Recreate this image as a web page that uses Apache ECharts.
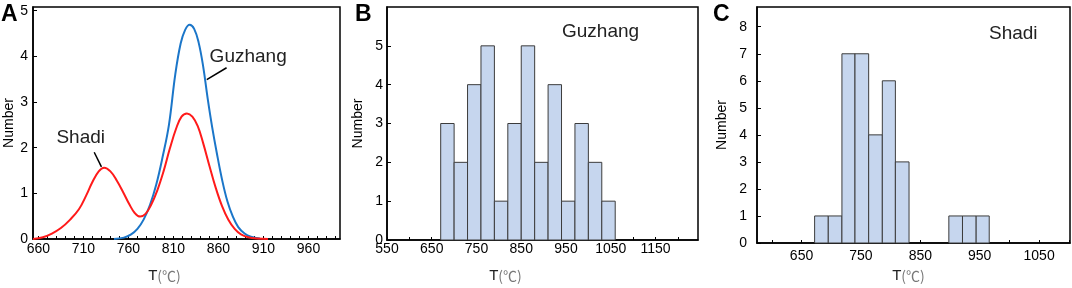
<!DOCTYPE html>
<html>
<head>
<meta charset="utf-8">
<script src="https://cdn.jsdelivr.net/npm/echarts@6/dist/echarts.min.js"></script>
<style>
html,body{margin:0;padding:0;background:#fff;}
#main{width:1072px;height:288px;}
</style>
</head>
<body>
<div id="main"></div>
<script>
// A: kernel density curves
var shadiT = [654,665,675,685,695,705,713,720,727,733,740,747,754,761,767,773,779,785,792,799,806,813,819,825,831,837,843,850,857,864,871,878,885,893,903,915];
var shadiN = [0,0.04,0.12,0.24,0.42,0.65,0.95,1.25,1.48,1.56,1.48,1.28,1.03,0.76,0.57,0.49,0.55,0.74,1.06,1.48,1.98,2.42,2.68,2.75,2.68,2.47,2.1,1.6,1.12,0.72,0.42,0.22,0.1,0.04,0.01,0];
var guzhangT = [744,755,763,770,777,784,791,798,805,812,818,823,828,833,838,843,848,853,858,864,870,876,882,889,896,906];
var guzhangN = [0,0.03,0.1,0.22,0.43,0.75,1.2,1.8,2.5,3.6,4.28,4.58,4.69,4.6,4.3,3.78,3.08,2.45,1.9,1.3,0.82,0.49,0.26,0.12,0.05,0.01];

// B: Guzhang histogram
var guzhangEdges = [670,700,730,760,790,820,850,880,910,940,970,1000,1030,1060];
var guzhangCounts = [3,2,4,5,1,3,5,2,4,1,3,2,1];

// C: Shadi histogram
var shadiEdges = [672,695,718,740,763,786,808,831,853,876,898,921,944,966];
var shadiCounts = [1,1,7,7,4,6,3,0,0,0,1,1,1];

// tick labels
var ticksA = [660,710,760,810,860,910,960];
var ticksB = [550,650,750,850,950,1050,1150];
var ticksC = [650,750,850,950,1050];
var yTicksA = [0,1,2,3,4,5];
var yTicksB = [0,1,2,3,4,5];
var yTicksC = [0,1,2,3,4,5,6,7,8];

function zip(a, b){
	var out = [];
	for (var i = 0; i < a.length; i++) out.push([a[i], b[i]]);
	return out;
}
function bins(edges, counts){
	var out = [];
	for (var i = 0; i < counts.length; i++) out.push([edges[i], edges[i+1], counts[i]]);
	return out;
}
function steps(from, to, step){
	var out = [];
	for (var v = from; v <= to; v += step) out.push(v);
	return out;
}

var FONT = 'Liberation Sans, Arial, sans-serif';

function histItem(params, api){
	var n = api.value(2);
	if (!n) return;
	var p0 = api.coord([api.value(0), n]);
	var p1 = api.coord([api.value(1), 0]);
	return {
		type: 'rect',
		shape: {x: p0[0], y: p0[1], width: p1[0]-p0[0], height: p1[1]-p0[1]},
		style: {fill: '#c6d6ee', stroke: '#3c3c3c', lineWidth: 1}
	};
}

function plain(v){ return String(v); }

function xAxisOf(idx, min, max, labels, ticks, margin, gap, shift){
	return {
		type: 'value', gridIndex: idx, min: min, max: max,
		name: '{t|T}{c|(℃)}', nameLocation: 'middle', nameGap: gap,
		nameTextStyle: {padding: [0, shift, 0, 0], rich: {
			t: {fontFamily: FONT, fontSize: 15, color: '#222'},
			c: {fontFamily: 'Noto Sans CJK SC', fontSize: 14, color: '#777'}
		}},
		axisLine: {show: true, onZero: false, lineStyle: {color: '#000', width: 1.5}},
		axisTick: {show: true, inside: true, length: 3, customValues: ticks, lineStyle: {color: '#000'}},
		axisLabel: {customValues: labels, formatter: plain, margin: margin, fontFamily: FONT, fontSize: 14, color: '#000'},
		splitLine: {show: false}
	};
}
function yAxisOf(idx, max, labels, margin, gap){
	return {
		type: 'value', gridIndex: idx, min: 0, max: max,
		name: 'Number', nameLocation: 'middle', nameGap: gap,
		nameTextStyle: {fontFamily: FONT, fontSize: 14, color: '#000'},
		axisLine: {show: true, lineStyle: {color: '#000', width: 1.5}},
		axisTick: {show: true, inside: true, length: 4, customValues: labels, lineStyle: {color: '#000'}},
		axisLabel: {customValues: labels, formatter: plain, margin: margin, fontFamily: FONT, fontSize: 14, color: '#000'},
		splitLine: {show: false}
	};
}

var myChart = echarts.init(document.getElementById('main'));
var option = {
	animation: false,
	backgroundColor: '#fff',
	grid: [
		{left: 33, top: 7, width: 307, height: 234, show: true, borderColor: '#000', borderWidth: 1.5},
		{left: 387, top: 7, width: 311, height: 233, show: true, borderColor: '#000', borderWidth: 1.5},
		{left: 757, top: 7, width: 313, height: 237, show: true, borderColor: '#000', borderWidth: 1.5}
	],
	xAxis: [
		xAxisOf(0, 654, 995, ticksA, steps(660, 990, 10), 3, 29, 44),
		xAxisOf(1, 550, 1245, ticksB, steps(550, 1200, 50), 2, 28, 74),
		xAxisOf(2, 575, 1102, ticksC, steps(600, 1100, 50), 6, 25, 10)
	],
	yAxis: [
		yAxisOf(0, 5.08, yTicksA, 5, 17),
		yAxisOf(1, 6, yTicksB, 4, 22),
		yAxisOf(2, 8.73, yTicksC, 10, 28)
	],
	graphic: [
		{type: 'text', left: 1, top: 3, style: {text: 'A', font: '900 23px ' + FONT, fill: '#000'}},
		{type: 'text', left: 355, top: 3, style: {text: 'B', font: '900 23px ' + FONT, fill: '#000'}},
		{type: 'text', left: 713, top: 3, style: {text: 'C', font: '900 23px ' + FONT, fill: '#000'}},
		{type: 'text', left: 562, top: 22, style: {text: 'Guzhang', font: '19px ' + FONT, fill: '#222'}},
		{type: 'text', left: 989, top: 24, style: {text: 'Shadi', font: '19px ' + FONT, fill: '#222'}}
	],
	series: [
		{
			name: 'Guzhang', type: 'line', xAxisIndex: 0, yAxisIndex: 0,
			data: zip(guzhangT, guzhangN), smooth: 0.4, showSymbol: false,
			lineStyle: {color: '#1b76c9', width: 2}, itemStyle: {color: '#1b76c9'},
			markLine: {
				silent: true, symbol: ['none', 'none'], label: {show: false},
				lineStyle: {color: '#000', width: 1.5, type: 'solid'},
				data: [[{coord: [847, 3.49]}, {coord: [869, 3.75]}]]
			},
			markPoint: {
				silent: true, symbolSize: 0,
				label: {show: true, position: 'inside', formatter: 'Guzhang', fontFamily: FONT, fontSize: 19, color: '#222'},
				data: [{coord: [893, 3.99]}]
			}
		},
		{
			name: 'Shadi', type: 'line', xAxisIndex: 0, yAxisIndex: 0,
			data: zip(shadiT, shadiN), smooth: 0.4, showSymbol: false,
			lineStyle: {color: '#ff1a1a', width: 2}, itemStyle: {color: '#ff1a1a'},
			markLine: {
				silent: true, symbol: ['none', 'none'], label: {show: false},
				lineStyle: {color: '#000', width: 1.5, type: 'solid'},
				data: [[{coord: [722, 1.9]}, {coord: [730, 1.58]}]]
			},
			markPoint: {
				silent: true, symbolSize: 0,
				label: {show: true, position: 'inside', formatter: 'Shadi', fontFamily: FONT, fontSize: 19, color: '#222'},
				data: [{coord: [707, 2.21]}]
			}
		},
		{
			type: 'custom', xAxisIndex: 1, yAxisIndex: 1,
			renderItem: histItem, encode: {x: [0, 1], y: 2},
			data: bins(guzhangEdges, guzhangCounts)
		},
		{
			type: 'custom', xAxisIndex: 2, yAxisIndex: 2,
			renderItem: histItem, encode: {x: [0, 1], y: 2},
			data: bins(shadiEdges, shadiCounts)
		}
	]
};
myChart.setOption(option);
</script>
</body>
</html>
